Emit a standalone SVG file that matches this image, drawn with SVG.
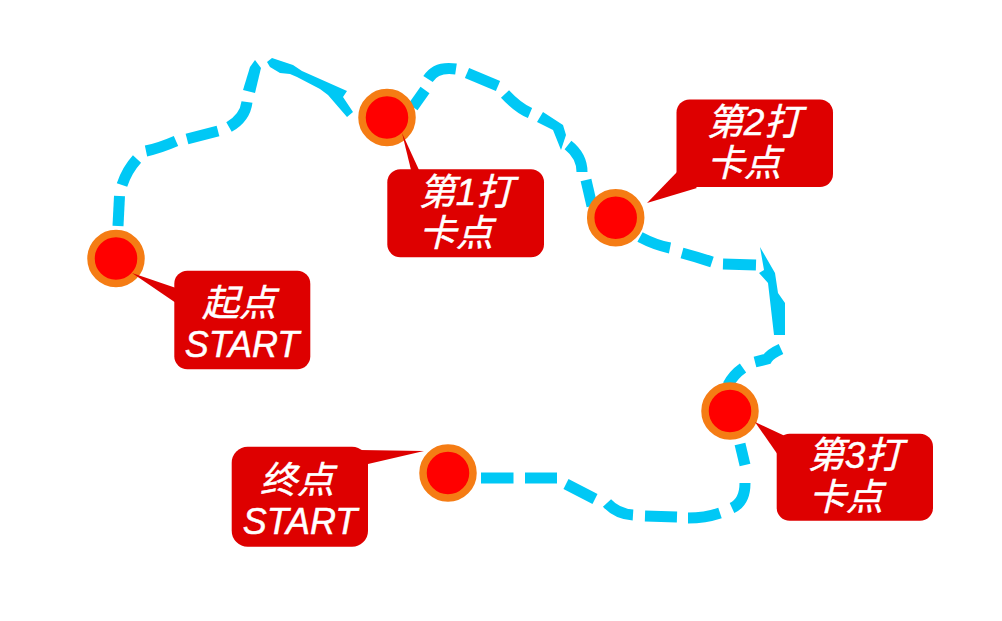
<svg xmlns="http://www.w3.org/2000/svg" width="1002" height="621" viewBox="0 0 1002 621">
<style>
.d{fill:none;stroke:#00C8F5;stroke-width:11}
.f{fill:#00C8F5}
.o{fill:#FF0000;stroke:#F57C14;stroke-width:7.5}
.c{fill:#DE0000}
.t{fill:#fff;stroke:#fff;stroke-width:.5;font-family:"Liberation Sans","Noto Sans CJK SC",sans-serif;font-style:italic;font-size:37px;text-anchor:middle}
.s{font-size:36px}
</style>
<rect width="1002" height="621" fill="#fff"/>
<g id="connectors">
<path class="d" d="M118 226L119.500 196"/>
<path class="d" d="M122 185Q127 170 137 159"/>
<path class="d" d="M146 151Q160 148 176 141"/>
<path class="d" d="M187 139L218 131"/>
<path class="d" d="M229 127Q245 118 247 102"/>
<path class="f" d="M255 60L261 68L255 93L243 90L250 67Z"/>
<path class="f" d="M267 62L272 58L293 65L302 71L347 91L343 97L353 112L347 117L328 95L320 89L297 77L290 74L280 73L270 67Z"/>
<path class="d" d="M413 107L425 90"/>
<path class="d" d="M428 79Q436 66 456 69"/>
<path class="d" d="M467 73L498 86"/>
<path class="d" d="M505 94Q518 108 530 113"/>
<path class="f" d="M543 112L563 125L566 135L561 150L553 130L537 122Z"/>
<path class="d" d="M568 145Q582 156 582 172"/>
<path class="d" d="M586 180L592 206"/>
<path class="d" d="M640 237Q655 245 670 248"/>
<path class="d" d="M682 253Q697 257 712 262"/>
<path class="d" d="M723 264L756 265"/>
<path class="f" d="M760 247L775 273L778 293L785 303L785 335L774 335L768 283L759 273L764 270Z"/>
<path class="d" d="M781 349Q770 354 767 359L755 362"/>
<path class="d" d="M743 368Q733 375 728 385"/>
<path class="d" d="M740 444L745 465"/>
<path class="d" d="M745 483Q745 502 732 508"/>
<path class="d" d="M720 513Q705 518 688 518"/>
<path class="d" d="M677 517L645 516"/>
<path class="d" d="M481 478L513.500 478"/>
<path class="d" d="M525 478L557 478"/>
<path class="d" d="M566 484L595 499"/>
<path class="d" d="M607 503Q617 514 633 515"/>
</g>
<g id="start"><circle class="o" cx="116" cy="258.500" r="25"/><path class="c" d="M132 273L176 288V303Z"/><rect class="c" x="174.300" y="270.700" width="136" height="98.500" rx="13"/><text class="t" x="239" y="316">起点</text><text class="t s" x="242" y="357">START</text></g>
<g id="p1"><circle class="o" cx="387" cy="117.500" r="25"/><path class="c" d="M402 133L419 170H411Z"/><rect class="c" x="387.300" y="169.300" width="156.700" height="88" rx="13"/><text class="t" x="466" y="205">第1打</text><text class="t" x="456" y="246">卡点</text></g>
<g id="p2"><circle class="o" cx="615.700" cy="217.700" r="25"/><path class="c" d="M647 203L678 171L697 188Z"/><rect class="c" x="676.500" y="99.500" width="156.500" height="87.500" rx="13"/><text class="t" x="754" y="135">第2打</text><text class="t" x="744" y="176">卡点</text></g>
<g id="p3"><circle class="o" cx="730" cy="411" r="25"/><path class="c" d="M755 422L785 436L778 455Z"/><rect class="c" x="776.700" y="433.700" width="156.300" height="87" rx="13"/><text class="t" x="855" y="468">第3打</text><text class="t" x="846" y="510">卡点</text></g>
<g id="end"><circle class="o" cx="448" cy="473" r="25"/><path class="c" d="M424 451L360 450L368 464Z"/><rect class="c" x="231.700" y="446.700" width="136.300" height="100" rx="16"/><text class="t" x="297" y="493">终点</text><text class="t s" x="300" y="534">START</text></g>
</svg>
